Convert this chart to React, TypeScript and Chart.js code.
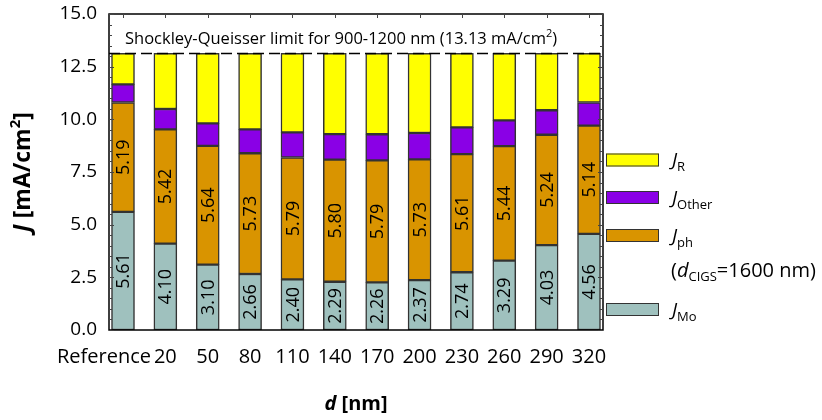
import React, { useEffect, useRef } from "react";
import { Chart, registerables } from "chart.js";
Chart.register(...registerables);

const categories = ["Reference", "20", "50", "80", "110", "140", "170", "200", "230", "260", "290", "320"];
const jMo = [5.61, 4.10, 3.10, 2.66, 2.40, 2.29, 2.26, 2.37, 2.74, 3.29, 4.03, 4.56];
const jPh = [5.19, 5.42, 5.64, 5.73, 5.79, 5.80, 5.79, 5.73, 5.61, 5.44, 5.24, 5.14];
const jOther = [0.86, 0.97, 1.07, 1.13, 1.19, 1.21, 1.24, 1.25, 1.27, 1.22, 1.16, 1.10];
const jR = [1.47, 2.64, 3.32, 3.61, 3.75, 3.83, 3.84, 3.78, 3.51, 3.18, 2.70, 2.33];
const sqLimit = 13.13;
const yTicks = [0, 2.5, 5, 7.5, 10, 12.5, 15];

const FONT = '"Open Sans", sans-serif';
const colR = "#FFFF00";
const colOther = "#8A00E6";
const colPh = "#D99400";
const colMo = "#9FC1BE";
const edge = "#333333";

type Part = { text: string; font: string; dy?: number };

function richWidth(ctx: CanvasRenderingContext2D, parts: Part[]) {
  let w = 0;
  for (const p of parts) {
    ctx.font = p.font;
    w += ctx.measureText(p.text).width;
  }
  return w;
}

function drawRich(ctx: CanvasRenderingContext2D, parts: Part[], x: number, y: number) {
  let cx = x;
  ctx.textAlign = "left";
  ctx.textBaseline = "alphabetic";
  for (const p of parts) {
    ctx.font = p.font;
    ctx.fillText(p.text, cx, y + (p.dy || 0));
    cx += ctx.measureText(p.text).width;
  }
}

const overlay = {
  id: "overlay",
  afterDatasetsDraw(chart: any) {
    const ctx: CanvasRenderingContext2D = chart.ctx;
    const xs = chart.scales.x;
    const ys = chart.scales.y;
    const a = chart.chartArea;
    ctx.save();
    ctx.fillStyle = "#000";

    // value labels inside bars
    ctx.font = `18px ${FONT}`;
    categories.forEach((_, i) => {
      const px = xs.getPixelForValue(i);
      const segs: [number, number, number][] = [
        [0, jMo[i], jMo[i]],
        [jMo[i], jMo[i] + jPh[i], jPh[i]],
      ];
      segs.forEach(([lo, hi, v]) => {
        const py = ys.getPixelForValue((lo + hi) / 2);
        ctx.save();
        ctx.translate(px + 1, py);
        ctx.rotate(-Math.PI / 2);
        ctx.textAlign = "center";
        ctx.textBaseline = "middle";
        ctx.fillText(v.toFixed(2), 0, 0);
        ctx.restore();
      });
    });

    // Shockley-Queisser dashed line
    const ly = ys.getPixelForValue(sqLimit);
    ctx.strokeStyle = "#000";
    ctx.lineWidth = 1.5;
    ctx.setLineDash([11, 5]);
    ctx.beginPath();
    ctx.moveTo(a.left, ly);
    ctx.lineTo(a.right, ly);
    ctx.stroke();
    ctx.setLineDash([]);

    // SQ text
    drawRich(ctx, [
      { text: "Shockley-Queisser limit for 900-1200 nm (13.13 mA/cm", font: `16.5px ${FONT}` },
      { text: "2", font: `11px ${FONT}`, dy: -7 },
      { text: ")", font: `16.5px ${FONT}` },
    ], a.left + 16, a.top + 30);

    // frame
    ctx.strokeStyle = "#000";
    ctx.lineWidth = 1.5;
    ctx.strokeRect(a.left, a.top, a.right - a.left, a.bottom - a.top);

    // minor / major ticks on left and right
    ctx.lineWidth = 1;
    ctx.strokeStyle = "#444";
    for (let v = 0; v <= 15.001; v += 0.5) {
      const py = Math.round(ys.getPixelForValue(v)) + 0.5;
      const major = Math.abs(v / 2.5 - Math.round(v / 2.5)) < 1e-6;
      const len = major ? 5 : 3;
      ctx.beginPath();
      ctx.moveTo(a.left, py);
      ctx.lineTo(a.left + len, py);
      ctx.moveTo(a.right, py);
      ctx.lineTo(a.right - len, py);
      ctx.stroke();
    }
    // top ticks at categories
    categories.forEach((_, i) => {
      const px = Math.round(xs.getPixelForValue(i)) + 0.5;
      ctx.beginPath();
      ctx.moveTo(px, a.top);
      ctx.lineTo(px, a.top + 4);
      ctx.stroke();
    });

    // x tick labels
    ctx.fillStyle = "#000";
    ctx.font = `20px ${FONT}`;
    ctx.textBaseline = "alphabetic";
    categories.forEach((c, i) => {
      const px = xs.getPixelForValue(i);
      if (i === 0) {
        ctx.textAlign = "right";
        ctx.fillText(c, px + 28, a.bottom + 33);
      } else {
        ctx.textAlign = "center";
        ctx.fillText(c, px, a.bottom + 33);
      }
    });

    // x title
    const xt: Part[] = [
      { text: "d", font: `italic bold 20px ${FONT}` },
      { text: " [nm]", font: `bold 20px ${FONT}` },
    ];
    const xw = richWidth(ctx, xt);
    drawRich(ctx, xt, (a.left + a.right) / 2 - xw / 2, 410);

    // y title
    const yt: Part[] = [
      { text: "J", font: `italic bold 23px ${FONT}` },
      { text: " [mA/cm", font: `bold 23px ${FONT}` },
      { text: "2", font: `bold 15px ${FONT}`, dy: -10 },
      { text: "]", font: `bold 23px ${FONT}` },
    ];
    const yw = richWidth(ctx, yt);
    ctx.save();
    ctx.translate(30, (a.top + a.bottom) / 2);
    ctx.rotate(-Math.PI / 2);
    drawRich(ctx, yt, -yw / 2, 0);
    ctx.restore();

    // legend
    const items = [
      { color: colR, sub: "R", cy: 160 },
      { color: colOther, sub: "Other", cy: 197.5 },
      { color: colPh, sub: "ph", cy: 235.5 },
      { color: colMo, sub: "Mo", cy: 309.5 },
    ];
    const bx = a.right + 3;
    items.forEach((it) => {
      ctx.fillStyle = it.color;
      ctx.fillRect(bx, it.cy - 6.5, 53, 13);
      ctx.strokeStyle = edge;
      ctx.lineWidth = 1;
      ctx.strokeRect(bx + 0.5, it.cy - 6, 52, 12);
      ctx.fillStyle = "#000";
      drawRich(ctx, [
        { text: "J", font: `italic 19px ${FONT}` },
        { text: it.sub, font: `13px ${FONT}`, dy: 5 },
      ], bx + 66, it.cy + 6);
    });
    drawRich(ctx, [
      { text: "(", font: `20px ${FONT}` },
      { text: "d", font: `italic 20px ${FONT}` },
      { text: "CIGS", font: `13px ${FONT}`, dy: 4 },
      { text: "=1600 nm)", font: `20px ${FONT}` },
    ], bx + 65, 277);

    ctx.restore();
  },
};

export default function App() {
  const ref = useRef<HTMLCanvasElement | null>(null);
  useEffect(() => {
    if (!ref.current) return;
    const border = { borderColor: edge, borderWidth: 1.5, borderSkipped: false as const, barThickness: 23 };
    const chart = new Chart(ref.current, {
      type: "bar",
      data: {
        labels: categories,
        datasets: [
          { label: "J_Mo", data: jMo, backgroundColor: colMo, ...border },
          { label: "J_ph", data: jPh, backgroundColor: colPh, ...border },
          { label: "J_Other", data: jOther, backgroundColor: colOther, ...border },
          { label: "J_R", data: jR, backgroundColor: colR, ...border },
        ],
      },
      options: {
        responsive: false,
        animation: false,
        devicePixelRatio: 1,
        layout: { padding: { left: 0, right: 219, top: 14, bottom: 0 } },
        plugins: { legend: { display: false }, tooltip: { enabled: false } },
        scales: {
          x: {
            stacked: true,
            grid: { display: false, drawTicks: false },
            border: { display: false },
            ticks: { display: false },
            afterFit: (s: any) => { s.height = 90; s.paddingLeft = 0; s.paddingRight = 0; },
            afterBuildTicks: (s: any) => { s._startValue = -0.3305; s._valueRange = 11.661; },
          },
          y: {
            stacked: true,
            min: 0,
            max: 15,
            grid: { display: false, drawTicks: false },
            border: { display: false },
            ticks: {
              color: "#000",
              font: { family: FONT, size: 19 },
              padding: 12,
              callback: (v: any) => Number(v).toFixed(1),
            },
            afterBuildTicks: (s: any) => { s.ticks = yTicks.map((v) => ({ value: v })); },
            afterFit: (s: any) => { s.width = 109; s.paddingTop = 0; s.paddingBottom = 0; },
          },
        },
      },
      plugins: [overlay],
    });
    return () => chart.destroy();
  }, []);
  return (
    <div style={{ position: "absolute", left: 0, top: 0, width: 822, height: 420, background: "#fff" }}>
      <canvas ref={ref} width={822} height={420} style={{ width: 822, height: 420 }} />
    </div>
  );
}
